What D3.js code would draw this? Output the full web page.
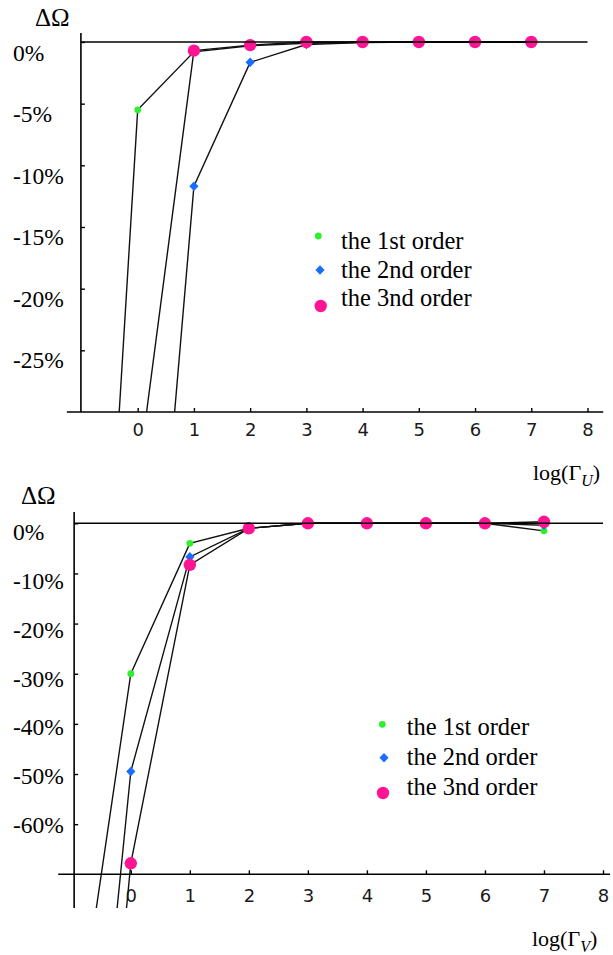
<!DOCTYPE html>
<html><head><meta charset="utf-8">
<script src="https://cdn.jsdelivr.net/npm/d3@7"></script>
<style>
html,body{margin:0;padding:0;background:#fff;}
svg{display:block;}
.serif{font-family:"Liberation Serif","Times New Roman",Tinos,"DejaVu Serif",serif;}
.sans{font-family:"DejaVu Sans",Verdana,sans-serif;}
</style></head>
<body>
<script>
// ---------- DATA ----------
const seriesNames = ["the 1st order", "the 2nd order", "the 3nd order"];
const xTicks = [0,1,2,3,4,5,6,7,8];

// top chart: log(Γ_U)
const topX = [-1,0,1,2,3,4,5,6,7];
const top1 = [-80, -5.5, -0.8, -0.3, -0.1, -0.03, 0, 0, 0];
const top2 = [-120, -65, -11.7, -1.65, -0.2, -0.05, 0, 0, 0];
const top3 = [-100, -35.5, -0.7, -0.25, 0, 0, 0, 0, 0];
const topYTicks = [0,-5,-10,-15,-20,-25];
const topYLabels = ["0%","-5%","-10%","-15%","-20%","-25%"];

// bottom chart: log(Γ_V)
const botX = [-1,0,1,2,3,4,5,6,7];
const bot1 = [-110, -30, -4, -1, 0, 0, 0, 0, -1.5];
const bot2 = [-167, -49.5, -6.7, -1, 0, 0, 0, 0, -0.4];
const bot3 = [-191, -67.8, -8.3, -1, 0, 0, 0, 0, 0.3];
const botYTicks = [0,-10,-20,-30,-40,-50,-60];
const botYLabels = ["0%","-10%","-20%","-30%","-40%","-50%","-60%"];

// ---------- STYLE ----------
const colors = ["#2ef02e", "#1a6eff", "#ff1493"];

const svg = d3.select("body").append("svg").attr("width",613).attr("height",955);

function marker(g, type, cx, cy){
  if(type===0) g.append("circle").attr("cx",cx).attr("cy",cy).attr("r",3.4).attr("fill",colors[0]);
  else if(type===1) g.append("path").attr("d",`M${cx},${cy-4.8}L${cx+4.6},${cy}L${cx},${cy+4.8}L${cx-4.6},${cy}Z`).attr("fill",colors[1]);
  else g.append("circle").attr("cx",cx).attr("cy",cy).attr("r",6.2).attr("fill",colors[2]);
}

function chart(cfg){
  const g = svg.append("g");
  const x = d3.scaleLinear().domain([0,8]).range(cfg.xRange);
  const y = d3.scaleLinear().domain(cfg.yDomain).range(cfg.yRange);
  const yAx = x(cfg.yAxisAt);
  const clipId = "clip"+cfg.id;
  svg.append("clipPath").attr("id",clipId).append("rect")
    .attr("x",yAx).attr("y",cfg.clipTop).attr("width",613-yAx).attr("height",cfg.clipBottom-cfg.clipTop);

  // data lines
  const line = d3.line().x((d,i)=>x(cfg.xs[i])).y(d=>y(d));
  const pg = g.append("g").attr("clip-path",`url(#${clipId})`);
  cfg.series.forEach(s=>{
    pg.append("path").attr("d",line(s)).attr("fill","none").attr("stroke","#111").attr("stroke-width",1.4);
  });
  // markers (skip the extension point at x=-1)
  cfg.series.forEach((s,k)=>{
    s.forEach((v,i)=>{ if(cfg.xs[i]>=0) marker(pg,k,x(cfg.xs[i]),y(v)); });
  });

  // zero line
  g.append("line").attr("x1",yAx).attr("x2",x(8)).attr("y1",y(0)).attr("y2",y(0)).attr("stroke","#000").attr("stroke-width",1.5);

  // x axis
  const y0 = y(cfg.yDomain[0]);
  g.append("line").attr("x1",x(cfg.xAxisFrom)).attr("x2",x(cfg.xAxisTo)).attr("y1",y0).attr("y2",y0).attr("stroke","#000").attr("stroke-width",1.6);
  const xa = d3.axisBottom(x).tickValues(xTicks).tickSizeInner(-4).tickSizeOuter(0).tickFormat(d3.format("d")).tickPadding(0);
  const xg = g.append("g").attr("transform",`translate(0,${y0})`).call(xa);
  xg.attr("font-family",null).attr("font-size",null);
  xg.select(".domain").remove();
  xg.selectAll(".tick line").attr("stroke","#000").attr("stroke-width",1.4);
  xg.selectAll(".tick text").attr("class","sans").attr("y",cfg.xLabelDy).attr("dy",0).attr("font-size",18).attr("fill","#1a1a1a");

  // y axis
  g.append("line").attr("x1",yAx).attr("x2",yAx).attr("y1",cfg.yAxisTop).attr("y2",cfg.yAxisBottom).attr("stroke","#000").attr("stroke-width",1.6);
  const ya = d3.axisLeft(y).tickValues(cfg.yTicks).tickSizeInner(-4).tickSizeOuter(0).tickFormat("");
  const yg = g.append("g").attr("transform",`translate(${yAx},0)`).call(ya);
  yg.select(".domain").remove();
  yg.selectAll(".tick line").attr("stroke","#000").attr("stroke-width",1.4);
  cfg.yTicks.forEach((t,i)=>{
    g.append("text").attr("class","serif").attr("x",13).attr("y",cfg.labelY(t)).attr("font-size",23.5).attr("fill","#000").text(cfg.yLabels[i]);
  });

  // axis titles
  g.append("text").attr("class","serif").attr("x",cfg.dOmega[0]).attr("y",cfg.dOmega[1]).attr("font-size",25).attr("fill","#000").text("ΔΩ");
  const t = g.append("text").attr("class","serif").attr("x",cfg.xTitle[0]).attr("y",cfg.xTitle[1]).attr("font-size",22).attr("fill","#000");
  t.append("tspan").text("log(Γ");
  t.append("tspan").attr("font-style","italic").attr("font-size",16).attr("dy",6).text(cfg.sub);
  t.append("tspan").attr("dy",-6).text(")");

  // legend
  cfg.legend.forEach((L,k)=>{
    marker(g,k,L.mx,L.my);
    g.append("text").attr("class","serif").attr("x",L.tx).attr("y",L.ty).attr("font-size",24.5).attr("fill","#000").text(seriesNames[k]);
  });
}

chart({
  id:"top", xs: topX, series:[top1,top2,top3],
  xRange:[137.7,587.5], yDomain:[-30,0], yRange:[412,42],
  yAxisAt:-1.01, xAxisFrom:-1.26, xAxisTo:8.28,
  yAxisTop:33, yAxisBottom:412, clipTop:28, clipBottom:412,
  xLabelDy:24, yTicks:topYTicks, yLabels:topYLabels,
  labelY: d3.scaleLinear().domain([0,-25]).range([61,368]),
  dOmega:[35,26], xTitle:[533,480], sub:"U",
  legend:[{mx:318.3,my:236,tx:341,ty:249},{mx:320,my:270,tx:341,ty:277.5},{mx:320.7,my:306,tx:341,ty:306}]
});

chart({
  id:"bot", xs: botX, series:[bot1,bot2,bot3],
  xRange:[130.8,603], yDomain:[-70,0], yRange:[874.3,523.3],
  yAxisAt:-0.96, xAxisFrom:-1.23, xAxisTo:8.12,
  yAxisTop:512, yAxisBottom:908, clipTop:505, clipBottom:908,
  xLabelDy:28, yTicks:botYTicks, yLabels:botYLabels,
  labelY: d3.scaleLinear().domain([0,-60]).range([540,833]),
  dOmega:[21,504], xTitle:[532,946], sub:"V",
  legend:[{mx:382.3,my:724.3,tx:406.7,ty:735},{mx:384,my:757.7,tx:406.7,ty:765},{mx:383,my:793,tx:406.7,ty:795}]
});
</script>
</body></html>
